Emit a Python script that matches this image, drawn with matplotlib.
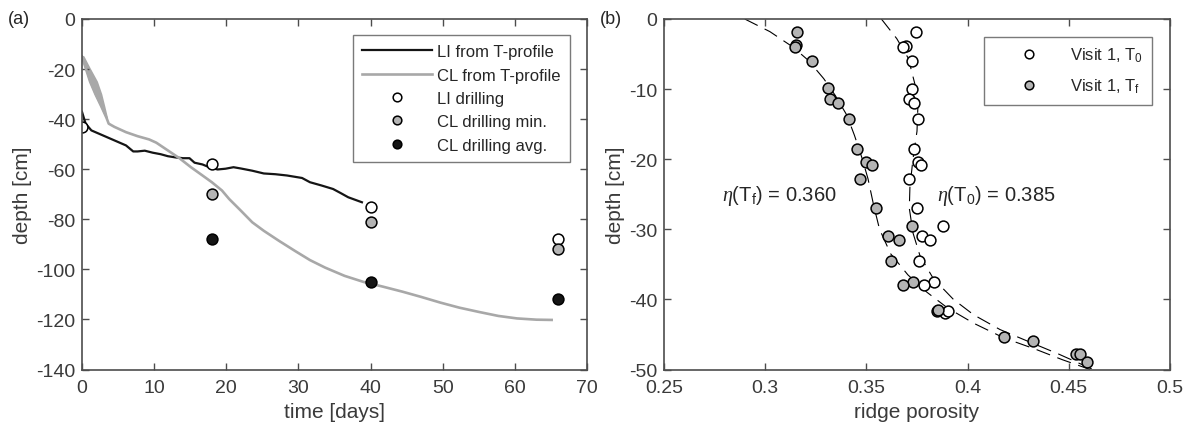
import matplotlib
matplotlib.use('Agg')
import matplotlib.pyplot as plt

plt.rcParams['font.family'] = ['Liberation Sans', 'DejaVu Sans']
plt.rcParams['mathtext.fontset'] = 'custom'
plt.rcParams['mathtext.rm'] = 'Liberation Sans'
plt.rcParams['mathtext.it'] = 'Liberation Serif:italic'
plt.rcParams['axes.unicode_minus'] = False

# ---------------- data: panel (a) ----------------
li_t = [0, 0.5, 1.3, 2.9, 4.5, 6.1, 7.1, 7.7, 8.7, 9.8, 10.9, 11.9, 13.0, 14.0, 14.9,
        15.6, 16.7, 17.8, 18.8, 19.9, 21.0, 22.0, 23.6, 25.2, 26.8, 28.4, 30.5, 31.6,
        33.2, 34.8, 35.9, 36.9, 38.8]
li_d = [-37.1, -41.8, -44.5, -46.5, -48.5, -50.5, -52.9, -52.9, -52.6, -53.4, -54.0,
        -54.8, -55.3, -55.6, -55.6, -57.4, -58.1, -59.4, -60.1, -59.8, -59.2, -59.7,
        -60.6, -61.7, -62.0, -62.5, -63.5, -65.2, -66.5, -67.9, -69.6, -71.2, -73.2]

cl_t = [0, 0.56, 1.12, 1.86, 2.69, 3.4, 3.7, 4.5, 6.1, 7.7, 9.3, 10.3, 11.9, 13.5, 15.1,
        16.7, 18.0, 19.4, 20.4, 22.0, 23.6, 25.2, 27.3, 29.5, 31.6, 33.7, 36.4, 39.0,
        41.7, 44.4, 47.0, 49.7, 52.3, 55.0, 57.7, 60.3, 63.0, 65.1]
cl_d = [-15.0, -20.0, -25.0, -30.0, -35.0, -39.5, -41.8, -43.1, -45.2, -46.8, -48.1,
        -49.4, -52.5, -55.6, -59.2, -62.5, -65.2, -68.5, -71.9, -76.5, -81.2, -84.6,
        -88.6, -92.6, -96.3, -99.3, -102.6, -105.0, -106.9, -108.9, -111.0, -113.3,
        -115.3, -117.0, -118.6, -119.6, -120.1, -120.2]

band_d = [-15.0, -20.0, -25.0, -30.0, -35.0, -39.5]
band_t_left = [0.0, 0.56, 1.12, 1.86, 2.69, 3.4]
band_t_right = [0.15, 1.05, 2.0, 2.6, 3.03, 3.4]

li_drill_t = [0, 18, 40, 66]
li_drill_d = [-43, -58, -75, -88]
cl_drill_t = [18, 40, 66]
cl_min_d = [-70, -81, -92]
cl_avg_d = [-88, -105, -112]

# ---------------- data: panel (b) ----------------
t0_por = [0.3743, 0.3694, 0.3682, 0.3724, 0.3724, 0.3712, 0.3735, 0.3756, 0.3735,
          0.3756, 0.3770, 0.3712, 0.3749, 0.3877, 0.3773, 0.3814, 0.3762, 0.3835,
          0.3787, 0.3890, 0.3905]
t0_dep = [-1.9, -3.8, -4.0, -6.0, -10.0, -11.4, -12.0, -14.3, -18.5, -20.4, -20.8,
          -22.8, -27.0, -29.5, -31.0, -31.5, -34.5, -37.5, -37.9, -41.9, -41.6]
tf_por = [0.3156, 0.3151, 0.3146, 0.3230, 0.3312, 0.3320, 0.3362, 0.3416, 0.3452,
          0.3498, 0.3526, 0.3468, 0.3547, 0.3724, 0.3605, 0.3663, 0.3620, 0.3729,
          0.3680, 0.3847, 0.3855, 0.4182, 0.4322, 0.4535, 0.4555, 0.4590]
tf_dep = [-1.9, -3.7, -3.95, -5.95, -9.9, -11.4, -12.0, -14.3, -18.5, -20.4, -20.8,
          -22.8, -27.0, -29.5, -31.0, -31.5, -34.5, -37.5, -37.9, -41.7, -41.5,
          -45.3, -46.0, -47.8, -47.8, -49.0]

fit0_por = [0.3574, 0.365, 0.3707, 0.3745, 0.3755, 0.375, 0.373, 0.3715, 0.3712,
            0.373, 0.3765, 0.383, 0.393, 0.403, 0.416, 0.430, 0.445, 0.462]
fit0_dep = [0, -2.8, -5.6, -9.9, -12, -16, -20, -24, -27, -30.5, -33.8, -37, -40,
            -42.2, -44.3, -46, -47.8, -50]
fitf_por = [0.2899, 0.3023, 0.3137, 0.3213, 0.3289, 0.3346, 0.3403, 0.3441, 0.3479,
            0.3508, 0.3536, 0.3565, 0.362, 0.3705, 0.380, 0.390, 0.403, 0.418, 0.4335,
            0.4468, 0.4605]
fitf_dep = [0, -1.8, -4, -5.9, -8.5, -10.9, -13.7, -16.6, -19.9, -22.8, -26.6, -30,
            -33.5, -36.5, -39, -41.2, -43.4, -45.5, -47.1, -48.6, -50]

# ---------------- styles ----------------
AX_COL = '#4d4d4d'
TXT_COL = '#3a3a3a'
GRAY_LINE = '#a8a8a8'
GRAY_FILL = '#b4b4b4'
TICK_FS = 14
LAB_FS = 15
LEG_FS = 12

fig = plt.figure(figsize=(11.92, 4.31), dpi=100)
ax1 = fig.add_axes([82 / 1192, (431 - 370.5) / 431, 505 / 1192, 350.5 / 431])
ax2 = fig.add_axes([664 / 1192, (431 - 370.5) / 431, 506 / 1192, 350.5 / 431])

for ax in (ax1, ax2):
    for s in ax.spines.values():
        s.set_color(AX_COL)
        s.set_linewidth(1.2)
    ax.tick_params(direction='in', top=True, right=True, length=5, width=1.0,
                   color=AX_COL, labelcolor=TXT_COL, labelsize=TICK_FS)
    ax.tick_params(axis='x', pad=7)
    ax.tick_params(axis='y', pad=5)

mk = dict(linestyle='none', marker='o', markersize=7.8, markeredgecolor='black',
          markeredgewidth=1.1)

# panel (a)
ax1.fill_betweenx(band_d, band_t_left, band_t_right, color=GRAY_LINE, linewidth=1.5,
                  edgecolor=GRAY_LINE)
l1, = ax1.plot(li_t, li_d, color='#151515', linewidth=1.6, label='LI from T-profile')
l2, = ax1.plot(cl_t, cl_d, color=GRAY_LINE, linewidth=1.9, label='CL from T-profile')
p1, = ax1.plot(li_drill_t, li_drill_d, markerfacecolor='white', label='LI drilling', **mk)
p2, = ax1.plot(cl_drill_t, cl_min_d, markerfacecolor=GRAY_FILL, label='CL drilling min.', **mk)
p3, = ax1.plot(cl_drill_t, cl_avg_d, markerfacecolor='#151515', label='CL drilling avg.', **mk)

ax1.set_xlim(0, 70)
ax1.set_ylim(-140, 0)
ax1.set_xticks(range(0, 71, 10))
ax1.set_yticks(range(-140, 1, 20))
ax1.set_xlabel('time [days]', fontsize=LAB_FS, color=TXT_COL, labelpad=4)
ax1.set_ylabel('depth [cm]', fontsize=LAB_FS, color=TXT_COL, labelpad=3)

leg1 = ax1.legend(handles=[l1, l2, p1, p2, p3], loc='upper right',
                  bbox_to_anchor=(0.966, 0.954), borderaxespad=0, fontsize=LEG_FS,
                  handlelength=4.2, handletextpad=0.3, borderpad=0.55, labelspacing=0.5,
                  fancybox=False, framealpha=1, edgecolor='#7a7a7a', markerscale=0.8)
leg1.get_frame().set_linewidth(1.0)
for t in leg1.get_texts():
    t.set_color('#262626')

# panel (b)
ax2.plot(fit0_por, fit0_dep, color='black', linewidth=0.8, dashes=(13, 7))
ax2.plot(fitf_por, fitf_dep, color='black', linewidth=0.8, dashes=(13, 7))
q1, = ax2.plot(t0_por, t0_dep, markerfacecolor='white', label=r'Visit 1, T$_\mathrm{0}$', **mk)
q2, = ax2.plot(tf_por, tf_dep, markerfacecolor=GRAY_FILL, label=r'Visit 1, T$_\mathrm{f}$', **mk)

ax2.set_xlim(0.25, 0.5)
ax2.set_ylim(-50, 0)
ax2.set_xticks([0.25, 0.3, 0.35, 0.4, 0.45, 0.5])
ax2.set_xticklabels(['0.25', '0.3', '0.35', '0.4', '0.45', '0.5'])
ax2.set_yticks(range(-50, 1, 10))
ax2.set_xlabel('ridge porosity', fontsize=LAB_FS, color=TXT_COL, labelpad=4)
ax2.set_ylabel('depth [cm]', fontsize=LAB_FS, color=TXT_COL, labelpad=3)

ax2.text(0.2785, -25.1, r'$\eta$(T$_\mathrm{f}$) = 0.360', fontsize=14.5, color='#262626',
         va='center', ha='left')
ax2.text(0.3849, -25.1, r'$\eta$(T$_\mathrm{0}$) = 0.385', fontsize=14.5, color='#262626',
         va='center', ha='left')

leg2 = ax2.legend(handles=[q1, q2], loc='upper right', bbox_to_anchor=(0.964, 0.949),
                  borderaxespad=0, fontsize=LEG_FS, handlelength=4.3, handletextpad=0.3,
                  borderpad=0.55, labelspacing=0.75, fancybox=False, framealpha=1,
                  edgecolor='#7a7a7a', markerscale=0.8)
leg2.get_frame().set_linewidth(1.0)
for t in leg2.get_texts():
    t.set_color('#262626')

fig.text(8 / 1192, 1 - 20 / 431, '(a)', fontsize=13, color='#262626', va='center', ha='left')
fig.text(600 / 1192, 1 - 20 / 431, '(b)', fontsize=13, color='#262626', va='center', ha='left')

fig.savefig('out.png', dpi=100)
